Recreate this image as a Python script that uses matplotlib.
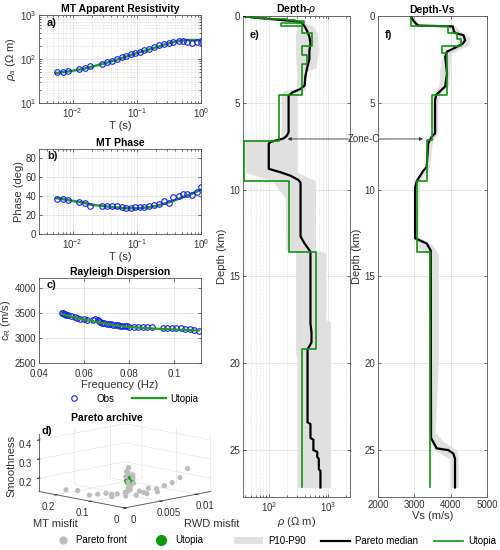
"""
Joint MT + Rayleigh-wave inversion summary: data fits, Pareto archive and
depth profiles of resistivity and shear velocity.
"""

import numpy as np
import matplotlib
matplotlib.use("Agg")
import matplotlib.pyplot as plt
from matplotlib.patches import Patch
from matplotlib.lines import Line2D

plt.rcParams["font.family"] = ["Liberation Sans", "DejaVu Sans"]
plt.rcParams["mathtext.fontset"] = "custom"
plt.rcParams["mathtext.rm"] = "Liberation Sans"
plt.rcParams["mathtext.it"] = "Liberation Sans:italic"
plt.rcParams["font.size"] = 7
plt.rcParams["axes.unicode_minus"] = False

# ---------------------------------------------------------------------------
# Data
# ---------------------------------------------------------------------------
# MT observations
T_obs = [0.0057, 0.0070, 0.0085, 0.0127, 0.0156, 0.0186, 0.0284, 0.034, 0.0407,
         0.0487, 0.0583, 0.068, 0.0805, 0.094, 0.113, 0.130, 0.157, 0.186,
         0.225, 0.267, 0.312, 0.373, 0.447, 0.523, 0.604, 0.724, 0.865, 1.0]
rho_obs = [49.8, 51.5, 54, 58, 61, 69, 77, 85.5, 91.6, 98, 109, 117, 130, 139,
           147, 160, 172, 191, 205, 219, 227, 239, 252, 261, 248, 227, 239, 248]
phase_obs = [37.2, 36.9, 36.5, 33.7, 32.7, 29.2, 29.2, 29.9, 29.2, 29.2, 28.2,
             27.8, 27.5, 28.2, 28.5, 28.5, 29.6, 30.3, 32.0, 34.8, 33.0, 39.7,
             40.7, 42.4, 42.4, 41.4, 44.5, 50.0]

# MT response of the utopia model
T_fit = [0.0055, 0.007, 0.01, 0.015, 0.02, 0.03, 0.05, 0.07, 0.1, 0.15, 0.2,
         0.3, 0.4, 0.5, 0.6, 0.8, 1.0]
rho_fit = [48, 50, 54, 60, 67, 78, 97, 115, 136, 162, 185, 222, 248, 262, 268,
           268, 264]
phase_fit = [38, 37, 35, 33, 31, 29.5, 28, 27.2, 27.2, 28.2, 29.8, 33, 36,
             38.5, 40.5, 44, 47]

# Rayleigh dispersion
f_obs = [0.0500, 0.0505, 0.0510, 0.0515, 0.0520, 0.0530, 0.0540, 0.0560,
         0.0570, 0.0580, 0.0600, 0.0615, 0.0640, 0.0650, 0.0660, 0.0665,
         0.0670, 0.0680, 0.0690, 0.0700, 0.0710, 0.0720, 0.0730, 0.0740,
         0.0750, 0.0760, 0.0770, 0.0780, 0.0790, 0.0800, 0.0820, 0.0840,
         0.0860, 0.0880, 0.0900, 0.0952, 0.0970, 0.0990, 0.1010, 0.1030,
         0.1050, 0.1070, 0.1090, 0.1110]
c_obs = [3500, 3493, 3487, 3473, 3467, 3455, 3440, 3420, 3400, 3387, 3373,
         3360, 3353, 3373, 3360, 3335, 3320, 3307, 3295, 3287, 3280, 3273,
         3267, 3260, 3253, 3250, 3245, 3240, 3233, 3230, 3227, 3222, 3220,
         3218, 3213, 3207, 3205, 3200, 3198, 3193, 3187, 3180, 3167, 3150]
f_fit = [0.050, 0.055, 0.060, 0.065, 0.070, 0.075, 0.080, 0.085, 0.090,
         0.095, 0.100, 0.105, 0.111]
c_fit = [3480, 3420, 3370, 3325, 3285, 3250, 3222, 3205, 3190, 3180, 3170,
         3162, 3150]

# Pareto archive (MT misfit, RWD misfit, smoothness)
pareto_mt = [0.010, 0.012, 0.015, 0.008, 0.018, 0.014, 0.020, 0.016, 0.022,
             0.025, 0.028, 0.030, 0.035, 0.040, 0.045,
             0.25, 0.22, 0.18, 0.12, 0.10, 0.08, 0.07, 0.06, 0.15,
             0.003, 0.004, 0.005, 0.006, 0.008, 0.010, 0.012, 0.015, 0.018,
             0.020, 0.003,
             0.05, 0.04, 0.06, 0.09, 0.03]
pareto_rwd = [0.0010, 0.0008, 0.0012, 0.0015, 0.0010, 0.0018, 0.0014, 0.0020,
              0.0016, 0.0020, 0.0018, 0.0022, 0.0020, 0.0025, 0.0022,
              0.0003, 0.0002, 0.0004, 0.0008, 0.0010, 0.0012, 0.0015, 0.0018,
              0.0006,
              0.0120, 0.0100, 0.0090, 0.0080, 0.0070, 0.0060, 0.0050, 0.0040,
              0.0035, 0.0030, 0.0110,
              0.0040, 0.0050, 0.0030, 0.0025, 0.0060]
pareto_smooth = [0.33, 0.31, 0.30, 0.29, 0.28, 0.27, 0.25, 0.24, 0.23, 0.22,
                 0.21, 0.20, 0.19, 0.19, 0.18,
                 0.20, 0.17, 0.16, 0.15, 0.16, 0.17, 0.165, 0.17, 0.165,
                 0.22, 0.21, 0.27, 0.23, 0.21, 0.20, 0.19, 0.20, 0.18, 0.19,
                 0.24,
                 0.15, 0.155, 0.15, 0.14, 0.16]
utopia_mt, utopia_rwd, utopia_smooth = 0.012, 0.0012, 0.26

# Utopia model: layer tops [km] and values
rho_tops = [0.00, 0.05, 0.10, 0.15, 0.20, 0.25, 0.30, 0.38, 0.55, 1.00, 1.70,
            2.25, 2.78, 4.55, 7.18, 9.50, 13.60, 19.20]
rho_layers = [44, 60, 90, 140, 200, 280, 387, 158, 364, 540, 364, 441, 364,
              150, 38, 218, 623, 365]
vs_tops = [0.00, 0.55, 1.00, 1.30, 1.70, 2.15, 4.55, 7.14, 9.50, 13.60]
vs_layers = [2900, 3930, 4170, 4280, 3750, 3910, 3480, 3340, 3065, 3431]
model_bottom = 27.15

# Pareto median profiles
rho_med_z = [0.0, 0.1, 0.2, 0.3, 0.38, 0.6, 0.9, 1.2, 1.6, 2.0, 2.5, 2.9, 3.5,
             4.0, 4.2, 4.4, 4.6, 6.7, 6.9, 7.05, 7.25, 7.35, 8.8, 9.0, 9.2,
             9.45, 9.6, 12.7, 13.1, 13.5, 13.6, 17.7, 18.2, 18.8, 19.2, 23.4,
             23.5, 24.3, 24.4, 25.0, 25.1, 25.4, 25.5, 26.1, 26.2, 27.15]
rho_med = [37, 60, 130, 280, 355, 400, 445, 480, 500, 480, 480, 445, 410, 400,
           340, 250, 215, 215, 200, 178, 108, 100, 100, 158, 232, 316, 341,
           341, 398, 482, 500, 500, 520, 520, 447, 447, 500, 500, 560, 560,
           650, 650, 690, 690, 735, 735]
vs_med_z = [0.0, 0.2, 0.45, 0.55, 0.6, 0.9, 1.0, 1.1, 1.4, 1.6, 1.85, 2.05,
            2.35, 3.3, 4.05, 4.35, 4.55, 4.85, 6.76, 6.95, 7.14, 7.35, 8.7,
            8.9, 9.2, 9.5, 9.9, 12.8, 13.1, 13.5, 24.3, 24.9, 25.0, 25.2,
            25.5, 27.15]
vs_med = [2900, 2950, 3050, 3110, 4060, 4090, 4150, 4350, 4400, 4330, 4100,
          3900, 3850, 3900, 3850, 3700, 3600, 3570, 3570, 3480, 3430, 3380,
          3340, 3250, 3160, 3070, 3020, 3020, 3340, 3450, 3460, 3615, 3935,
          4073, 4120, 4120]

# P10-P90 envelopes
rho_band_z = [0.0, 0.1, 0.2, 0.3, 0.4, 0.6, 1.0, 2.0, 3.0, 3.2, 4.2, 4.3, 4.6,
              7.0, 7.2, 9.0, 9.5, 10.5, 13.5, 13.6, 17.5, 17.6, 19.5, 19.6,
              27.15]
rho_band_lo = [37, 50, 110, 230, 300, 300, 280, 280, 290, 295, 295, 180, 160,
               160, 41, 41, 115, 190, 192, 282, 282, 282, 282, 300, 300]
rho_band_hi = [42, 75, 160, 330, 420, 560, 650, 680, 620, 420, 410, 380, 300,
               300, 300, 300, 607, 607, 607, 891, 891, 1080, 1080, 1080, 1080]
vs_band_z = [0.0, 0.5, 0.6, 1.0, 1.2, 1.7, 1.9, 2.2, 3.0, 4.0, 4.5, 5.0, 6.8,
             7.2, 8.7, 9.5, 12.7, 13.2, 13.7, 20.0, 24.0, 24.5, 25.0, 25.5,
             27.15]
vs_band_lo = [2850, 2950, 3950, 4050, 4200, 4200, 3950, 3800, 3700, 3680, 3500,
              3500, 3500, 3380, 3280, 3000, 2980, 3050, 3390, 3390, 3400, 3450,
              3550, 3980, 3980]
vs_band_hi = [2950, 3150, 4150, 4300, 4530, 4500, 4250, 4000, 3980, 3950, 3700,
              3650, 3650, 3500, 3420, 3150, 3100, 3500, 3660, 3660, 3570, 3800,
              4180, 4210, 4210]

zone_c_depth = 7.08
zone_c_rho = 207
zone_c_vs = 3239

# ---------------------------------------------------------------------------
# Style
# ---------------------------------------------------------------------------
GREEN = "#1f9e1f"
GREEN_DARK = "#139313"
BLUE = "#1a1aee"
BAND = "#e0e0e0"
TXT = "#333333"
W, H = 500, 550


def px_axes(fig, x0, y0, x1, y1, **kw):
    return fig.add_axes([x0 / W, 1 - y1 / H, (x1 - x0) / W, (y1 - y0) / H], **kw)


def style(ax, minor_x=False, minor_y=False):
    ax.tick_params(which="both", direction="in", top=True, right=True,
                   width=0.5, colors=TXT, labelsize=7, pad=2)
    ax.tick_params(which="major", length=2.5)
    ax.tick_params(which="minor", length=1.5)
    for s in ax.spines.values():
        s.set_linewidth(0.6)
        s.set_color("#555555")
    ax.grid(True, which="major", color="#dcdcdc", lw=0.5)
    if minor_x:
        ax.grid(True, which="minor", axis="x", color="#d0d0d0", lw=0.5, ls=":")
    if minor_y:
        ax.grid(True, which="minor", axis="y", color="#d0d0d0", lw=0.5, ls=":")
    ax.set_axisbelow(True)


def panel_label(ax, s, x=0.05, y=0.88):
    ax.text(x, y, s, transform=ax.transAxes, fontsize=8,
            fontweight="bold", color="#111111")


def stairs(tops, vals, bottom):
    bounds = np.append(np.asarray(tops, float), bottom)
    z = np.repeat(bounds, 2)[1:-1]
    v = np.repeat(np.asarray(vals, float), 2)
    return z, v


fig = plt.figure(figsize=(5.0, 5.5), dpi=100)

# --- d) Pareto archive (3-D) -- drawn first so 2-D panels sit above it -------
with plt.rc_context({"grid.color": "#e4e4e4", "grid.linewidth": 0.5}):
    ax_d = fig.add_axes([-0.034, 0.03, 0.56, 0.25], projection="3d")
    ax_d.set_facecolor("none")
    ax_d.set_proj_type("ortho")
    ax_d.scatter(pareto_rwd, pareto_mt, pareto_smooth, c="#bdbdbd", s=14,
                 depthshade=False, edgecolors="none")
    ax_d.scatter([utopia_rwd], [utopia_mt], [utopia_smooth], c="#0a9a0a", s=55,
                 depthshade=False, edgecolors="none")
    ax_d.set_xlim(0, 0.012)
    ax_d.set_ylim(0, 0.25)
    ax_d.set_zlim(0.13, 0.43)
    ax_d.set_xticks([0, 0.005, 0.01])
    ax_d.set_xticklabels(["0", "0.005", "0.01"])
    ax_d.set_yticks([0, 0.1, 0.2])
    ax_d.set_yticklabels(["0", "0.1", "0.2"])
    ax_d.set_zticks([0.2, 0.3, 0.4])
    ax_d.view_init(elev=11, azim=-135)
    ax_d.set_box_aspect((1, 1, 0.48), zoom=1.28)
    for axis in (ax_d.xaxis, ax_d.yaxis, ax_d.zaxis):
        axis.set_pane_color((1, 1, 1, 0))
        axis.pane.set_edgecolor("#555555")
        axis.line.set_color("#555555")
        axis.line.set_linewidth(0.6)
    ax_d.tick_params(axis="both", labelsize=7, colors=TXT, pad=-3)
    ax_d.zaxis.set_tick_params(pad=-4)
fig.text(107 / W, 1 - 418 / H, "Pareto archive", fontsize=7.5,
         fontweight="bold", ha="center", va="center")
fig.text(42 / W, 1 - 431 / H, "d)", fontsize=8, fontweight="bold",
         ha="left", va="center")
fig.text(55 / W, 1 - 524 / H, "MT misfit", fontsize=8, color=TXT,
         ha="center", va="center")
fig.text(212 / W, 1 - 524 / H, "RWD misfit", fontsize=8, color=TXT,
         ha="center", va="center")
fig.text(11 / W, 1 - 466 / H, "Smoothness", fontsize=8, color=TXT,
         ha="center", va="center", rotation=90)
fig.legend(handles=[Line2D([], [], marker="o", ls="none", color="#bdbdbd",
                           ms=5, label="Pareto front"),
                    Line2D([], [], marker="o", ls="none", color="#0a9a0a",
                           ms=7, label="Utopia")],
           loc="center", bbox_to_anchor=(128 / W, 1 - 540 / H), ncol=2,
           frameon=False, fontsize=7, columnspacing=2.5, handletextpad=0.4)

# --- a) apparent resistivity ------------------------------------------------
ax_a = px_axes(fig, 39, 15, 201, 103)
ax_a.set_xscale("log")
ax_a.set_yscale("log")
ax_a.plot(T_fit, rho_fit, color=GREEN, lw=1.8, zorder=3)
ax_a.plot(T_obs, rho_obs, "o", mfc="none", mec=BLUE, ms=4, mew=0.8, zorder=4)
ax_a.set_xlim(0.003, 1.0)
ax_a.set_ylim(10, 1000)
style(ax_a, minor_x=True, minor_y=True)
ax_a.set_title("MT Apparent Resistivity", fontsize=7.5, fontweight="bold", pad=2)
ax_a.set_xlabel("T (s)", fontsize=8, color=TXT, labelpad=1)
ax_a.set_ylabel(r"$\rho_a$ ($\Omega$ m)", fontsize=8, color=TXT, labelpad=1)
panel_label(ax_a, "a)")

# --- b) phase -----------------------------------------------------------------
ax_b = px_axes(fig, 39, 149, 201, 234)
ax_b.set_xscale("log")
ax_b.plot(T_fit, phase_fit, color=GREEN, lw=1.8, zorder=3)
ax_b.plot(T_obs, phase_obs, "o", mfc="none", mec=BLUE, ms=4, mew=0.8, zorder=4)
ax_b.set_xlim(0.003, 1.0)
ax_b.set_ylim(0, 90)
ax_b.set_yticks([0, 20, 40, 60, 80])
style(ax_b, minor_x=True)
ax_b.set_title("MT Phase", fontsize=7.5, fontweight="bold", pad=2)
ax_b.set_xlabel("T (s)", fontsize=8, color=TXT, labelpad=1)
ax_b.set_ylabel("Phase (deg)", fontsize=8, color=TXT, labelpad=1)
panel_label(ax_b, "b)")

# --- c) Rayleigh dispersion ---------------------------------------------------
ax_c = px_axes(fig, 39, 278, 201, 363)
ax_c.plot(f_obs, c_obs, "o", mfc="none", mec=BLUE, ms=4, mew=0.8, label="Obs",
          zorder=3)
ax_c.plot(f_fit, c_fit, color=GREEN, lw=1.6, label="Utopia", zorder=4)
ax_c.set_xlim(0.04, 0.112)
ax_c.set_ylim(2500, 4200)
ax_c.set_xticks([0.04, 0.06, 0.08, 0.1])
ax_c.set_xticklabels(["0.04", "0.06", "0.08", "0.1"])
ax_c.set_yticks([2500, 3000, 3500, 4000])
style(ax_c)
ax_c.tick_params(axis="x", pad=4)
ax_c.set_title("Rayleigh Dispersion", fontsize=7.5, fontweight="bold", pad=2)
ax_c.set_xlabel("Frequency (Hz)", fontsize=8, color=TXT, labelpad=1)
ax_c.set_ylabel(r"c$_\mathrm{R}$ (m/s)", fontsize=8, color=TXT, labelpad=1)
panel_label(ax_c, "c)")
ax_c.legend(loc="center", bbox_to_anchor=(0.55, -0.42), ncol=2, frameon=False,
            fontsize=7, handlelength=3.5, columnspacing=1.8, handletextpad=0.5)

# --- e) depth - resistivity ---------------------------------------------------
ax_e = px_axes(fig, 243, 16, 350, 497)
ax_e.set_xscale("log")
ax_e.fill_betweenx(rho_band_z, rho_band_lo, rho_band_hi, color=BAND, lw=0,
                   zorder=1)
ax_e.plot(rho_med, rho_med_z, color="black", lw=1.6, zorder=3)
z_u, v_u = stairs(rho_tops, rho_layers, model_bottom)
ax_e.plot(v_u, z_u, color=GREEN_DARK, lw=1.2, zorder=4)
ax_e.set_xlim(37, 2300)
ax_e.set_ylim(27.7, 0)
ax_e.set_yticks([0, 5, 10, 15, 20, 25])
style(ax_e, minor_x=True)
ax_e.set_title(r"Depth-$\rho$", fontsize=7.5, fontweight="bold", pad=2)
ax_e.set_xlabel(r"$\rho$ ($\Omega$ m)", fontsize=8, color=TXT, labelpad=1)
ax_e.set_ylabel("Depth (km)", fontsize=8, color=TXT, labelpad=2)
panel_label(ax_e, "e)", 0.06, 0.955)

# --- f) depth - Vs ------------------------------------------------------------
ax_f = px_axes(fig, 378, 16, 487, 497)
ax_f.fill_betweenx(vs_band_z, vs_band_lo, vs_band_hi, color=BAND, lw=0,
                   zorder=1)
ax_f.plot(vs_med, vs_med_z, color="black", lw=1.6, zorder=3)
z_u, v_u = stairs(vs_tops, vs_layers, model_bottom)
ax_f.plot(v_u, z_u, color=GREEN_DARK, lw=1.2, zorder=4)
ax_f.set_xlim(2000, 5000)
ax_f.set_ylim(27.7, 0)
ax_f.set_xticks([2000, 3000, 4000, 5000])
ax_f.set_yticks([0, 5, 10, 15, 20, 25])
style(ax_f)
ax_f.set_title("Depth-Vs", fontsize=7.5, fontweight="bold", pad=2)
ax_f.set_xlabel("Vs (m/s)", fontsize=8, color=TXT, labelpad=1)
ax_f.set_ylabel("Depth (km)", fontsize=8, color=TXT, labelpad=2)
panel_label(ax_f, "f)", 0.06, 0.955)

# --- Zone-C annotation --------------------------------------------------------
ty = 1 - 139 / H
fig.text(364 / W, ty, "Zone-C", fontsize=7, color=TXT, ha="center",
         va="center")
arrow = dict(arrowstyle="-|>", lw=0.6, color="#333333", mutation_scale=5,
             shrinkA=0, shrinkB=0)
ax_e.annotate("", xy=(zone_c_rho, zone_c_depth), xycoords="data",
              xytext=(349 / W, ty), textcoords="figure fraction",
              arrowprops=arrow, zorder=6)
ax_f.annotate("", xy=(zone_c_vs, zone_c_depth), xycoords="data",
              xytext=(379 / W, ty), textcoords="figure fraction",
              arrowprops=arrow, zorder=6)

fig.legend(handles=[Patch(facecolor=BAND, edgecolor="none", label="P10-P90"),
                    Line2D([], [], color="black", lw=1.6, label="Pareto median"),
                    Line2D([], [], color=GREEN_DARK, lw=1.2, label="Utopia")],
           loc="center", bbox_to_anchor=(365 / W, 1 - 541 / H), ncol=3,
           frameon=False, fontsize=7, handlelength=3, columnspacing=1.6,
           handletextpad=0.5)

fig.savefig("out.png", dpi=100, facecolor="white")
